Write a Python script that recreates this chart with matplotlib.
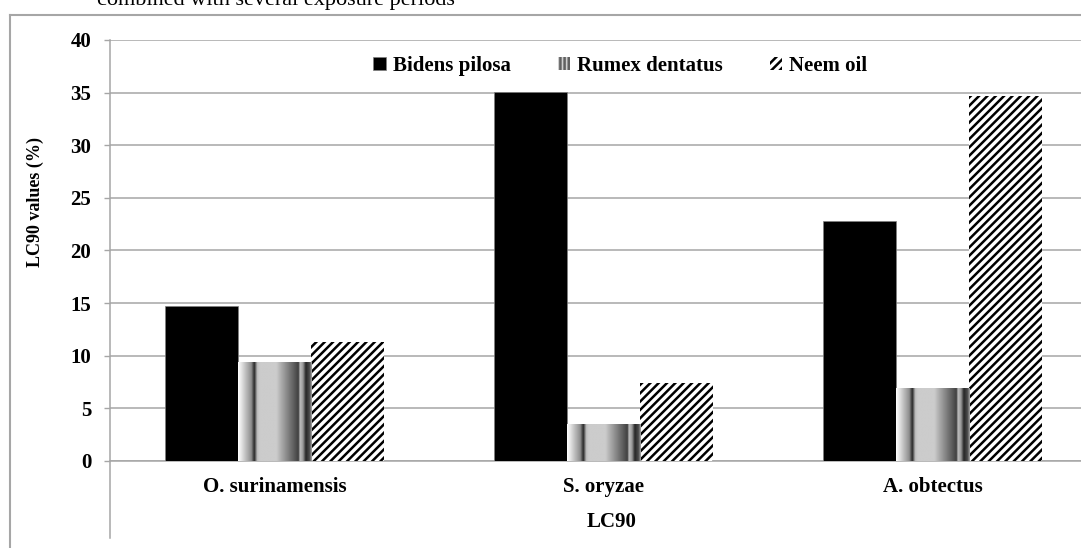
import numpy as np
import matplotlib.pyplot as plt
from matplotlib.lines import Line2D
from matplotlib.patches import Rectangle

plt.rcParams['font.family'] = ['Liberation Serif', 'DejaVu Serif']
plt.rcParams['hatch.linewidth'] = 1.8

# LC90 values (%) per insect and treatment
insectos = ['O. surinamensis', 'S. oryzae', 'A. obtectus']
tratamientos = ['Bidens pilosa', 'Rumex dentatus', 'Neem oil']
bidens = [14.7, 35.1, 22.8]
rumex = [9.35, 3.5, 6.9]
neem = [11.35, 7.4, 34.7]

gris = '#a6a6a6'
W, H = 1081, 548

fig = plt.figure(figsize=(W / 100, H / 100), dpi=100)
ax = fig.add_axes([110 / W, (H - 461) / H, 987 / W, 421 / H])

x = np.arange(len(insectos))
ancho = 0.222

b1 = ax.bar(x - ancho, bidens, ancho, color='black', edgecolor='#808080', linewidth=0.5, zorder=3)
b2 = ax.bar(x, rumex, ancho, color='#c8c8c8', linewidth=0, zorder=3)
b3 = ax.bar(x + ancho, neem, ancho, color='white', edgecolor='black', hatch='////', linewidth=0, zorder=3)

# relleno degradado de las barras de Rumex (franjas verticales)
pos = [0.0, 0.05, 0.18, 0.22, 0.26, 0.30, 0.52, 0.56, 0.75, 0.82, 0.84, 0.88, 0.92, 0.97, 1.0]
tono = [1.0, 0.88, 0.55, 0.15, 0.75, 0.8, 0.8, 0.72, 0.38, 0.25, 0.75, 0.6, 0.15, 0.3, 0.65]
perfil = np.interp(np.linspace(0, 1, 200), pos, tono)[None, :]
for p in b2.patches:
    ax.imshow(perfil, extent=[p.get_x(), p.get_x() + p.get_width(), 0, p.get_height()],
              aspect='auto', cmap='gray', vmin=0, vmax=1, interpolation='bilinear', zorder=3)

ax.set_xlim(-0.5, 2.5)
ax.set_ylim(0, 40)
ax.set_yticks(range(0, 41, 5))
ax.yaxis.grid(True, color=gris, linewidth=1.1)
ax.set_axisbelow(True)

for s in ['top', 'right', 'left']:
    ax.spines[s].set_visible(False)
ax.spines['bottom'].set_color(gris)
ax.spines['bottom'].set_linewidth(1.1)
# eje vertical que baja hasta el titulo del eje x
ax.plot([0, 0], [-0.183, 1], color=gris, linewidth=1.1, transform=ax.transAxes, clip_on=False)

ax.tick_params(axis='y', length=4.5, width=1, color=gris, pad=9, labelsize=15)
ax.tick_params(axis='x', length=0, pad=11.5, labelsize=15)
ax.set_xticks(x, insectos)
for t in ax.get_xticklabels() + ax.get_yticklabels():
    t.set_fontweight('bold')

fig.text(612 / W, 1 - 522 / H, 'LC90', ha='center', va='center', fontsize=15, fontweight='bold')
fig.text(35 / W, 1 - 202 / H, 'LC90 values (%)', ha='center', va='center', rotation=90,
         fontsize=13, fontweight='bold')
fig.text(97 / W, 1 - 1 / H, 'combined with several exposure periods', ha='left', va='center', fontsize=16)

# muestra de leyenda con rayas verticales para Rumex
rayas = Rectangle((0, 0), 1, 1, facecolor='#d0d0d0', edgecolor='#606060', hatch='||||', linewidth=0)
fig.legend([b1.patches[0], rayas, b3.patches[0]], tratamientos, loc='center left',
           bbox_to_anchor=(363 / W, 1 - 66 / H), ncol=3, frameon=False, borderpad=0,
           handlelength=0.58, handleheight=0.6, handletextpad=0.35, columnspacing=2.25,
           prop={'weight': 'bold', 'size': 15})

# marco exterior
fig.add_artist(Line2D([10 / W, 10 / W], [0, 1 - 15 / H], color=gris, linewidth=1.5))
fig.add_artist(Line2D([10 / W, 1], [1 - 15 / H, 1 - 15 / H], color=gris, linewidth=1.5))

fig.savefig('out.png', dpi=100)
